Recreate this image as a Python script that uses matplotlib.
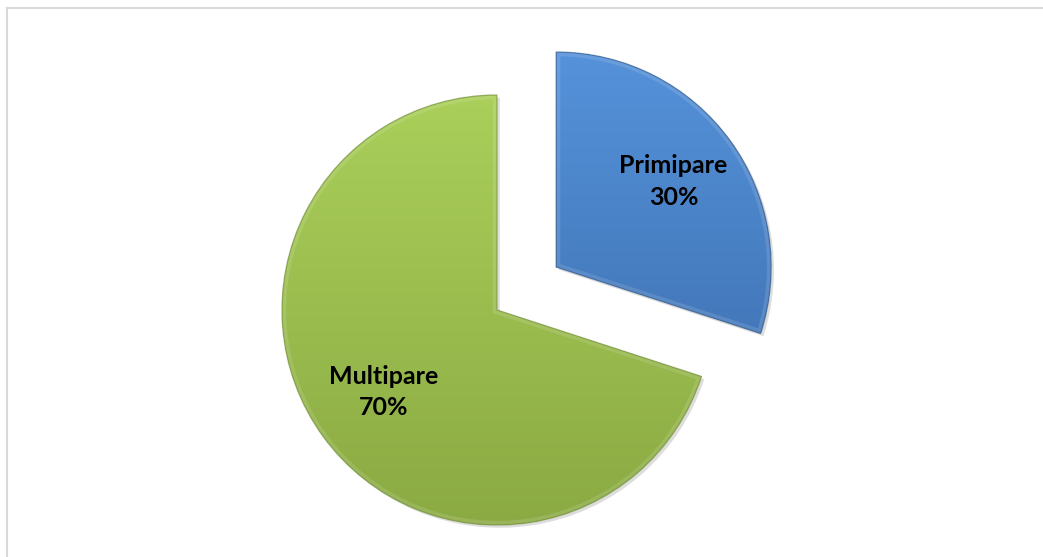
import numpy as np
import matplotlib
matplotlib.use("Agg")
import matplotlib.pyplot as plt
from matplotlib.colors import LinearSegmentedColormap
from matplotlib.patches import Wedge
import matplotlib.patheffects as pe
from matplotlib.lines import Line2D

categories = ["Primipare", "Multipare"]
shares = [30, 70]
explode = [0.34, 0.0]
top_colors = ["#5592DA", "#AACF5A"]
bottom_colors = ["#3A6BAA", "#8BAA43"]
edge_colors = ["#2E5585", "#6E8A35"]
label_dist = [0.675, 0.65]

W, H = 1043, 557
fig = plt.figure(figsize=(W / 100, H / 100), dpi=100)
ax = fig.add_axes([0, 0, 1, 1])
r_px = 215.0
cx_px, cy_px = 497.0, 310.0

wedges, _ = ax.pie(shares, explode=explode, startangle=90, counterclock=False,
                   radius=1.0, center=(0, 0), frame=True,
                   wedgeprops=dict(linewidth=0, edgecolor="none"))
ax.set_aspect("equal")
ax.set_xlim(-cx_px / r_px, (W - cx_px) / r_px)
ax.set_ylim(-(H - cy_px) / r_px, cy_px / r_px)
ax.axis("off")

grad = np.linspace(0, 1, 256).reshape(-1, 1)
for w, ctop, cbot, cedge, name, val, ld in zip(wedges, top_colors, bottom_colors,
                                               edge_colors, categories, shares, label_dist):
    w.set_facecolor(cbot)
    w.set_path_effects([pe.SimplePatchShadow(offset=(2, -2), alpha=0.2, shadow_rgbFace="#555555"),
                        pe.Normal()])
    cx, cy = w.center
    r = w.r
    cmap = LinearSegmentedColormap.from_list("g", [cbot, ctop])
    im = ax.imshow(grad, cmap=cmap, origin="lower", aspect="auto",
                   extent=(cx - r, cx + r, cy - r, cy + r), zorder=2,
                   interpolation="bilinear")
    im.set_clip_path(w)
    # bevel: soft light inner rim and a thin darker outline
    rim = Wedge((cx, cy), r, w.theta1, w.theta2, facecolor="none",
                edgecolor="white", linewidth=6, alpha=0.12, zorder=3)
    ax.add_patch(rim)
    rim.set_clip_path(w)
    outline = Wedge((cx, cy), r, w.theta1, w.theta2, facecolor="none",
                    edgecolor=cedge, linewidth=1.0, alpha=0.55, zorder=4)
    ax.add_patch(outline)

    mid = np.deg2rad((w.theta1 + w.theta2) / 2)
    d = ld * r
    ax.text(cx + d * np.cos(mid), cy + d * np.sin(mid), f"{name}\n{val}%",
            ha="center", va="center", fontsize=18, fontweight="bold",
            family="Lato", color="black", linespacing=1.45, zorder=5)

# frame lines along the left and top edges
fig.add_artist(Line2D([7 / W, 7 / W], [0, 1 - 8 / H], transform=fig.transFigure,
                      color="#D9D9D9", linewidth=1.5))
fig.add_artist(Line2D([7 / W, 1], [1 - 8 / H, 1 - 8 / H], transform=fig.transFigure,
                      color="#D9D9D9", linewidth=1.5))

fig.savefig("out.png", dpi=100)
